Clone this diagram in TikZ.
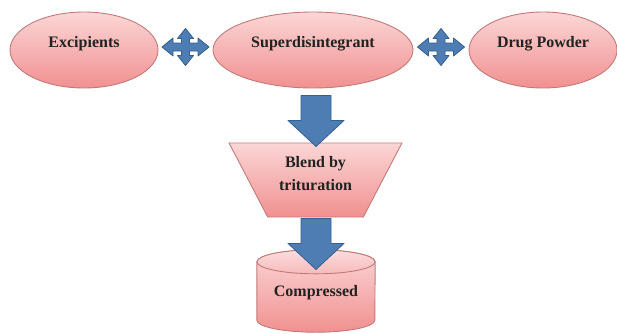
\documentclass[tikz,border=0pt]{standalone}
\usepackage{fontspec}
\setmainfont{Liberation Serif}
\usetikzlibrary{shapes.geometric,calc}
\definecolor{pinkT}{HTML}{FBD6D6}
\definecolor{pinkB}{HTML}{F19090}
\definecolor{pinkE}{HTML}{C27A7A}
\definecolor{blueF}{HTML}{4D7DB2}
\definecolor{blueE}{HTML}{34608F}
\definecolor{txt}{HTML}{222222}
\begin{document}
\begin{tikzpicture}[x=1pt,y=-1pt,
  lbl/.style={font=\fontsize{16}{23}\selectfont\bfseries, text=txt, align=center, inner sep=0pt},
  ell/.style={ellipse, draw=pinkE, line width=0.9pt, top color=pinkT, bottom color=pinkB,
    inner sep=0pt, font=\fontsize{16}{18}\selectfont\bfseries, text=txt,
    text height=9pt, text depth=14pt},
  pinkshape/.style={draw=pinkE, line width=0.9pt, top color=pinkT, bottom color=pinkB},
  blk/.style={fill=blueF, draw=blueE, line width=0.8pt, line join=round},
  downarr/.pic={\path[blk] (-15,0) -- (15,0) -- (15,25) -- (28,25) -- (0,51) -- (-28,25) -- (-15,25) -- cycle;},
  fourway/.pic={\path[blk] (-23.5,0) -- (-12.5,-9) -- (-12.5,-4) -- (-4,-4) -- (-4,-8.5) -- (-8,-8.5) -- (0,-18.5)
     -- (8,-8.5) -- (4,-8.5) -- (4,-4) -- (12.5,-4) -- (12.5,-9) -- (23.5,0) -- (12.5,9) -- (12.5,4)
     -- (4,4) -- (4,8.5) -- (8,8.5) -- (0,18.5) -- (-8,8.5) -- (-4,8.5) -- (-4,4) -- (-12.5,4) -- (-12.5,9) -- cycle;}
]
\useasboundingbox[fill=white] (0,0) rectangle (617,333);

% top row
\node[ell, minimum width=148pt, minimum height=76pt] (exc) at (84,50) {Excipients};
\node[ell, minimum width=200pt, minimum height=76pt] (sup) at (313,50) {Superdisintegrant};
\node[ell, minimum width=148pt, minimum height=76pt] (drug) at (543,50) {Drug Powder};

% four-way arrows between the ellipses
\coordinate (m1) at ($(exc.east)!0.5!(sup.west)+(0,-3)$);
\coordinate (m2) at ($(sup.east)!0.5!(drug.west)+(0,-3)$);
\pic at (m1) {fourway};
\pic at (m2) {fourway};

% blend trapezium
\node[trapezium, shape border rotate=180, trapezium stretches=true,
      trapezium left angle=68, trapezium right angle=68,
      minimum width=173pt, minimum height=74pt, pinkshape] (blend) at (315.5,180) {};
\node[lbl] (blendtxt) at ($(blend.center)+(0,-6)$) {Blend by\\trituration};

% compressed cylinder
\node[minimum width=118pt, minimum height=82pt, inner sep=0pt] (comp) at (316,291) {};
\path[pinkshape] ($(comp.north west)+(0,12)$) -- ($(comp.south west)+(0,-12)$)
   arc[start angle=180, end angle=0, x radius=59, y radius=12]
   -- ($(comp.north east)+(0,12)$)
   arc[start angle=360, end angle=180, x radius=59, y radius=12] -- cycle;
\path[draw=pinkE, line width=0.9pt, top color=pinkT!80!white, bottom color=pinkT!60!pinkB]
   ($(comp.north)+(0,12)$) ellipse[x radius=59, y radius=12];
\node[lbl] (comptxt) at ($(comp.center)+(0,2)$) {Compressed};

% down arrows
\coordinate (d1) at ($(sup.south)+(3,7)$);
\coordinate (d2) at ($(blend.south)+(0.5,1)$);
\pic at (d1) {downarr};
\pic at (d2) {downarr};
\end{tikzpicture}
\end{document}
